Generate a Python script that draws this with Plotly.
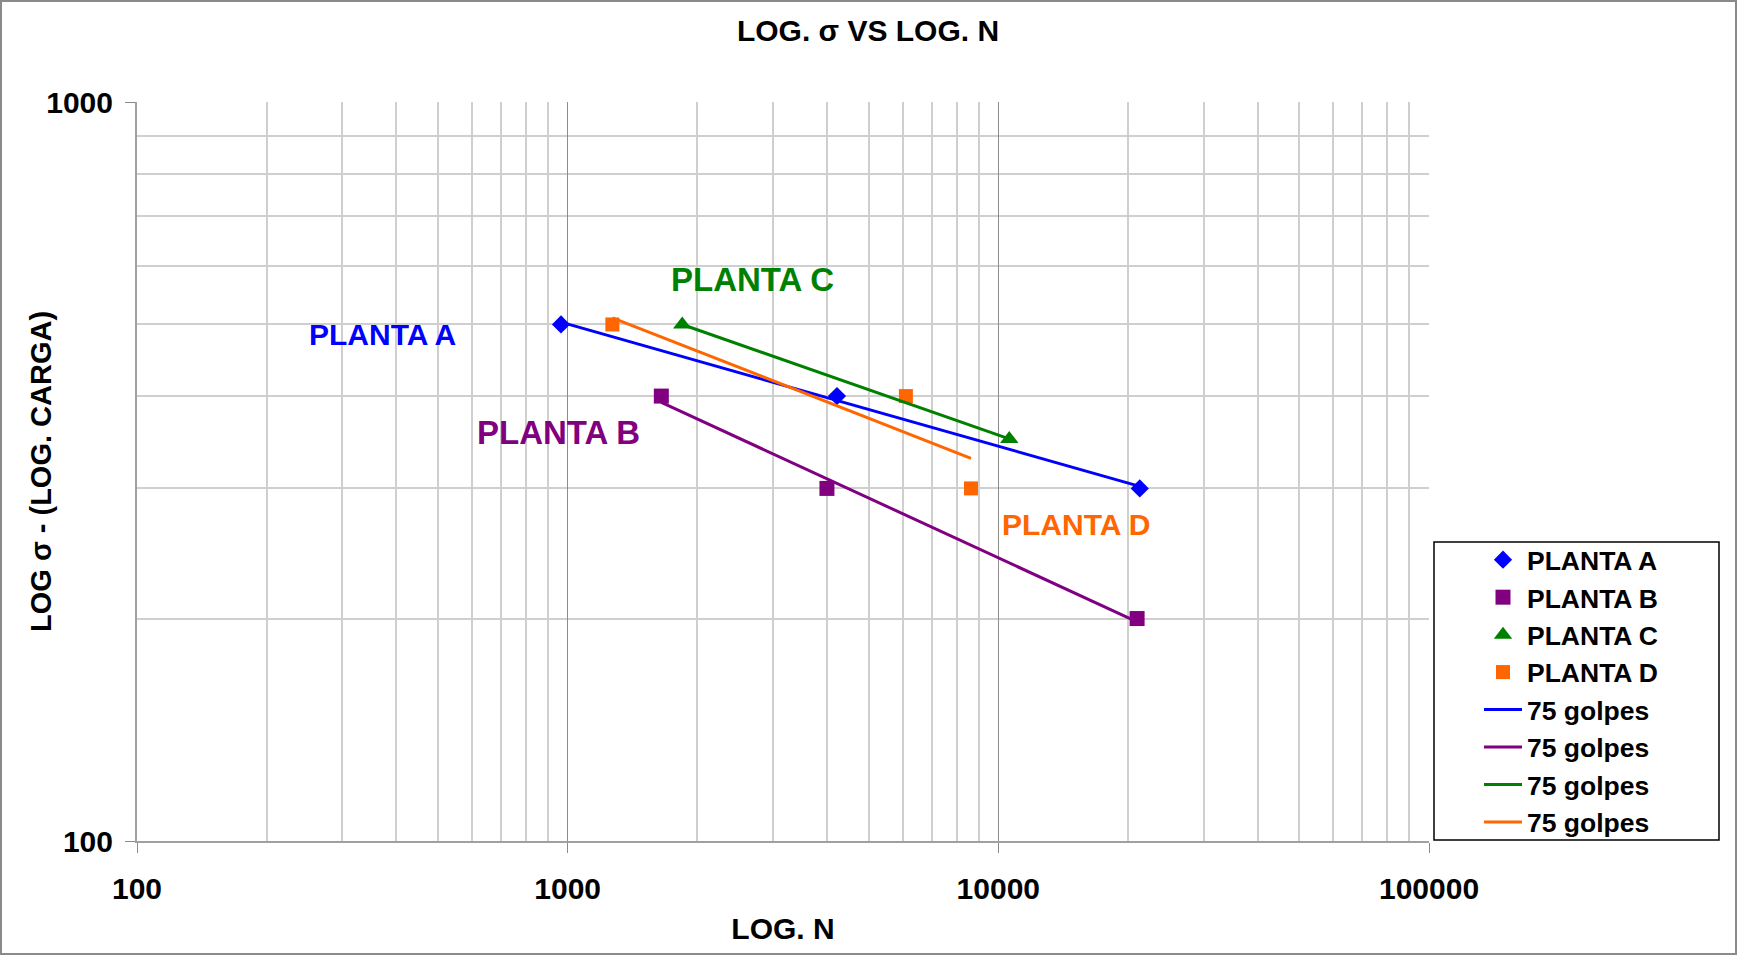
import numpy as np
import plotly.graph_objects as go

# Ensayos de fatiga: número de ciclos (N) y carga (σ) por planta
n_planta_a = [965, 4220, 21300]
s_planta_a = [500, 400, 300]
n_planta_b = [1650, 4000, 21000]
s_planta_b = [400, 300, 200]
n_planta_c = [1845, 10600]
s_planta_c = [500, 350]
n_planta_d = [1270, 6100, 8640]
s_planta_d = [500, 400, 300]

plantas = ["PLANTA A", "PLANTA B", "PLANTA C", "PLANTA D"]
colores = ["#0000FF", "#800080", "#008000", "#FF6600"]
simbolos = ["diamond", "square", "triangle-up", "square"]
tamanos = [14, 15, 16, 14]

x_ticks = [100, 1000, 10000, 100000]
y_ticks = [100, 1000]
x_minor = [m * 10 ** k for k in (2, 3, 4) for m in range(2, 10)]
y_minor = [m * 100 for m in range(2, 10)]

series_n = [n_planta_a, n_planta_b, n_planta_c, n_planta_d]
series_s = [s_planta_a, s_planta_b, s_planta_c, s_planta_d]

FONT = "Liberation Sans, Arial, sans-serif"

fig = go.Figure()

for nombre, n, s, c, sym, sz in zip(plantas, series_n, series_s, colores, simbolos, tamanos):
    fig.add_trace(go.Scatter(
        x=n, y=s, mode="markers", name=nombre,
        marker=dict(symbol=sym, size=sz, color=c, line=dict(width=0)),
    ))

# Líneas de tendencia potencial (ajuste lineal en log-log)
for n, s, c in zip(series_n, series_s, colores):
    b, a = np.polyfit(np.log10(n), np.log10(s), 1)
    xt = np.geomspace(min(n), max(n), 40)
    yt = 10 ** (a + b * np.log10(xt))
    fig.add_trace(go.Scatter(
        x=xt, y=yt, mode="lines", name="75 golpes",
        line=dict(color=c, width=3),
    ))

# Rótulos de cada planta
etiquetas = [
    ("PLANTA A", 372, 484, colores[0], 30),
    ("PLANTA B", 950, 357, colores[1], 33),
    ("PLANTA C", 2692, 576, colores[2], 33),
    ("PLANTA D", 15136, 268, colores[3], 30),
]
for txt, xv, yv, c, fs in etiquetas:
    fig.add_annotation(
        x=np.log10(xv), y=np.log10(yv), xref="x", yref="y", text=txt,
        showarrow=False, xanchor="center", yanchor="middle",
        font=dict(family=FONT, size=fs, color=c, weight="bold"),
    )

L, R, T, B = 137, 308, 102, 114
W, H = 1737, 955
pw, ph = W - L - R, H - T - B


def px(xp):
    return (xp - L) / pw


def py(yp):
    return (H - B - yp) / ph


# Título del eje vertical
fig.add_annotation(
    x=px(41), y=py(472), xref="paper", yref="paper",
    text="LOG σ - (LOG. CARGA)", textangle=-90, showarrow=False,
    xanchor="center", yanchor="middle",
    font=dict(family=FONT, size=29, color="black", weight="bold"),
)

shapes = [
    # marco exterior del gráfico
    dict(type="rect", xref="paper", yref="paper",
         x0=px(1), x1=px(W - 1), y0=py(H - 1), y1=py(1),
         line=dict(color="#8a8a8a", width=2), fillcolor="rgba(0,0,0,0)"),
    # marco de la leyenda
    dict(type="rect", xref="paper", yref="paper",
         x0=px(1434), x1=px(1719), y0=py(840), y1=py(542),
         line=dict(color="#000000", width=1.5), fillcolor="rgba(0,0,0,0)"),
]

fig.update_layout(
    width=W, height=H,
    margin=dict(l=L, r=R, t=T, b=B, pad=0),
    paper_bgcolor="white", plot_bgcolor="white",
    font=dict(family=FONT, size=28, color="black", weight="bold"),
    title=dict(text="LOG. σ VS LOG. N", x=868 / W, xref="container", xanchor="center",
               y=1 - 30 / H, yref="container", yanchor="middle",
               font=dict(family=FONT, size=30, color="black", weight="bold")),
    showlegend=True,
    legend=dict(x=px(1479), y=py(536), xanchor="left", yanchor="top",
                bgcolor="rgba(0,0,0,0)", borderwidth=0, itemwidth=38,
                font=dict(family=FONT, size=26.5, color="black", weight="bold"),
                tracegroupgap=0),
    shapes=shapes,
)

fig.update_xaxes(
    type="log", range=[2, 5],
    tickmode="array", tickvals=x_ticks, ticktext=[str(v) for v in x_ticks],
    ticks="outside", ticklen=10, tickwidth=1, tickcolor="#8a8a8a",
    ticklabelstandoff=10,
    tickfont=dict(family=FONT, size=30, color="black", weight="bold"),
    showline=True, linecolor="#a0a0a0", linewidth=2,
    showgrid=True, gridcolor="#8c8c8c", gridwidth=1,
    minor=dict(tickmode="array", tickvals=x_minor, showgrid=True,
               gridcolor="#cfcfcf", gridwidth=1.5, ticks=""),
    zeroline=False,
    title=dict(text="LOG. N", standoff=14,
               font=dict(family=FONT, size=30, color="black", weight="bold")),
)

fig.update_yaxes(
    type="log", range=[2, 3],
    tickmode="array", tickvals=y_ticks, ticktext=[str(v) for v in y_ticks],
    ticks="outside", ticklen=10, tickwidth=1, tickcolor="#8a8a8a",
    ticklabelstandoff=6,
    tickfont=dict(family=FONT, size=30, color="black", weight="bold"),
    showline=True, linecolor="#a0a0a0", linewidth=2,
    showgrid=True, gridcolor="#9a9a9a", gridwidth=1,
    minor=dict(tickmode="array", tickvals=y_minor, showgrid=True,
               gridcolor="#cfcfcf", gridwidth=1.5, ticks=""),
    zeroline=False,
)

fig.write_html("out.html")
